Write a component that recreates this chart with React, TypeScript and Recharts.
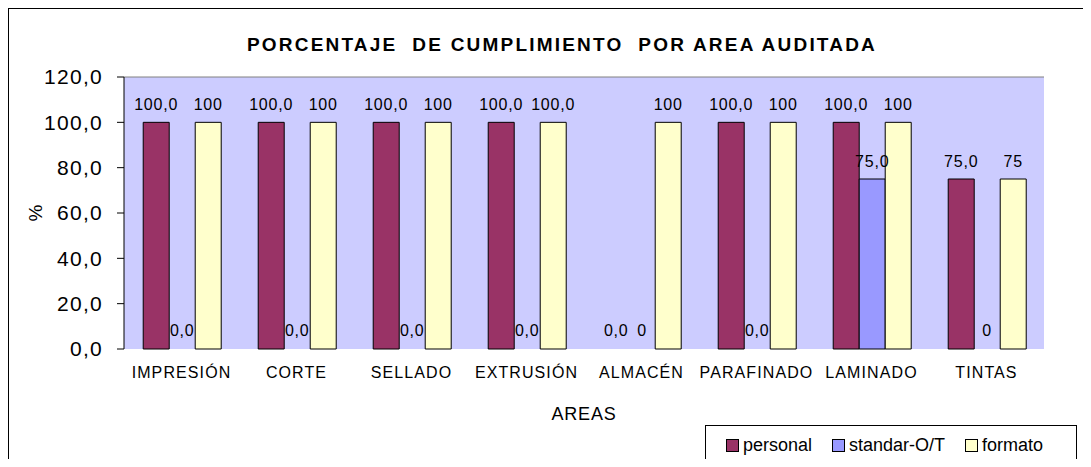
import React from "react";
import {
  BarChart,
  Bar,
  Cell,
  XAxis,
  YAxis,
  CartesianGrid,
  LabelList,
  Label,
  ReferenceLine,
} from "recharts";

const categories = [
  "IMPRESIÓN",
  "CORTE",
  "SELLADO",
  "EXTRUSIÓN",
  "ALMACÉN",
  "PARAFINADO",
  "LAMINADO",
  "TINTAS",
];
const personal = [100, 100, 100, 100, 0, 100, 100, 75];
const standar = [0, 0, 0, 0, 0, 0, 75, 0];
const formato = [100, 100, 100, 100, 100, 100, 100, 75];

// labels as printed in the original (mixed decimals)
const personalLabels = ["100,0", "100,0", "100,0", "100,0", "0,0", "100,0", "100,0", "75,0"];
const standarLabels = ["0,0", "0,0", "0,0", "0,0", "0", "0,0", "75,0", "0"];
const formatoLabels = ["100", "100", "100", "100,0", "100", "100", "100", "75"];

const yTicks = [0, 20, 40, 60, 80, 100, 120];

const series = [
  { key: "personal", name: "personal", color: "#993366", values: personal },
  { key: "standar", name: "standar-O/T", color: "#9999FF", values: standar },
  { key: "formato", name: "formato", color: "#FFFFCC", values: formato },
];

const data = categories.map((area, i) => ({
  area,
  personal: personal[i],
  standar: standar[i],
  formato: formato[i],
  personalLabel: personalLabels[i],
  standarLabel: standarLabels[i],
  formatoLabel: formatoLabels[i],
}));

const boundaryTicks = categories.map((_, i) => i).concat(categories.length);

// zero bars get 1px so recharts still places their "0,0" labels; the bar itself is hidden
const zeroMin = (v: any) => (Number(v) === 0 ? 1 : 0);

export default function App() {
  return (
    <div
      style={{
        position: "relative",
        width: 1076,
        height: 459,
        border: "1px solid #000",
        boxSizing: "border-box",
        background: "#fff",
        fontFamily: '"Liberation Sans", Arial, sans-serif',
        marginBottom: -8,
      }}
    >
      <div
        style={{
          position: "absolute",
          top: 25,
          left: 553,
          transform: "translateX(-50%)",
          whiteSpace: "pre",
          fontSize: 19,
          lineHeight: "22px",
          fontWeight: 700,
          letterSpacing: 2.2,
          color: "#000",
        }}
      >
        {"PORCENTAJE  DE CUMPLIMIENTO  POR AREA AUDITADA"}
      </div>

      <BarChart
        width={1074}
        height={457}
        data={data}
        margin={{ top: 68, right: 39, bottom: 37, left: 10 }}
        barCategoryGap="16.7%"
        barGap={0}
      >
        <CartesianGrid fill="#CCCCFF" horizontal={false} vertical={false} />
        <XAxis
          xAxisId={0}
          type="number"
          domain={[0, categories.length]}
          ticks={boundaryTicks}
          allowDataOverflow
          tick={false}
          tickSize={5}
          height={0}
          axisLine={{ stroke: "#000" }}
          tickLine={{ stroke: "#000" }}
        />
        <XAxis
          xAxisId="cat"
          dataKey="area"
          height={80}
          axisLine={false}
          tickLine={false}
          tickMargin={12}
          interval={0}
          tick={{ fill: "#000", fontSize: 16, letterSpacing: 1.1 }}
        >
          <Label
            value="AREAS"
            position="insideBottom"
            offset={9}
            style={{ fill: "#000", fontSize: 18, letterSpacing: 0.8 }}
          />
        </XAxis>
        <YAxis
          width={105}
          domain={[0, 120]}
          ticks={yTicks}
          interval={0}
          tickSize={7}
          tickMargin={14}
          axisLine={{ stroke: "#000" }}
          tickLine={{ stroke: "#000" }}
          tick={{ fill: "#000", fontSize: 21, letterSpacing: 1.3 }}
          tickFormatter={(v) => Number(v).toFixed(1).replace(".", ",")}
        >
          <Label
            content={({ viewBox }: any) => (
              <text
                x={viewBox.x + 16}
                y={viewBox.y + viewBox.height / 2}
                transform={`rotate(-90 ${viewBox.x + 16} ${viewBox.y + viewBox.height / 2})`}
                textAnchor="middle"
                dominantBaseline="central"
                fontSize={19}
                fill="#000"
              >
                %
              </text>
            )}
          />
        </YAxis>
        <ReferenceLine xAxisId={0} y={120} stroke="#808080" />
        <ReferenceLine xAxisId={0} x={categories.length} stroke="#808080" />
        {series.map((s) => (
          <Bar
            key={s.key}
            xAxisId="cat"
            dataKey={s.key}
            name={s.name}
            fill={s.color}
            stroke="#000"
            strokeWidth={1}
            minPointSize={zeroMin}
            isAnimationActive={false}
          >
            {s.values.map((v, i) => (
              <Cell
                key={i}
                fill={s.color}
                fillOpacity={v === 0 ? 0 : 1}
                stroke={v === 0 ? "none" : "#000"}
              />
            ))}
            <LabelList
              dataKey={`${s.key}Label`}
              position="top"
              offset={12}
              style={{ fill: "#000", fontSize: 16, letterSpacing: 0.8 }}
            />
          </Bar>
        ))}
      </BarChart>

      <div
        style={{
          position: "absolute",
          left: 696,
          top: 416,
          width: 372,
          height: 40,
          border: "1px solid #000",
          boxSizing: "border-box",
          display: "flex",
          alignItems: "center",
          paddingLeft: 20,
          gap: 20,
          fontSize: 18,
          color: "#000",
        }}
      >
        {series.map((s) => (
          <div key={s.key} style={{ display: "flex", alignItems: "center", gap: 4 }}>
            <span
              style={{
                display: "inline-block",
                width: 11,
                height: 11,
                background: s.color,
                border: "1px solid #000",
              }}
            />
            <span>{s.name}</span>
          </div>
        ))}
      </div>
    </div>
  );
}
